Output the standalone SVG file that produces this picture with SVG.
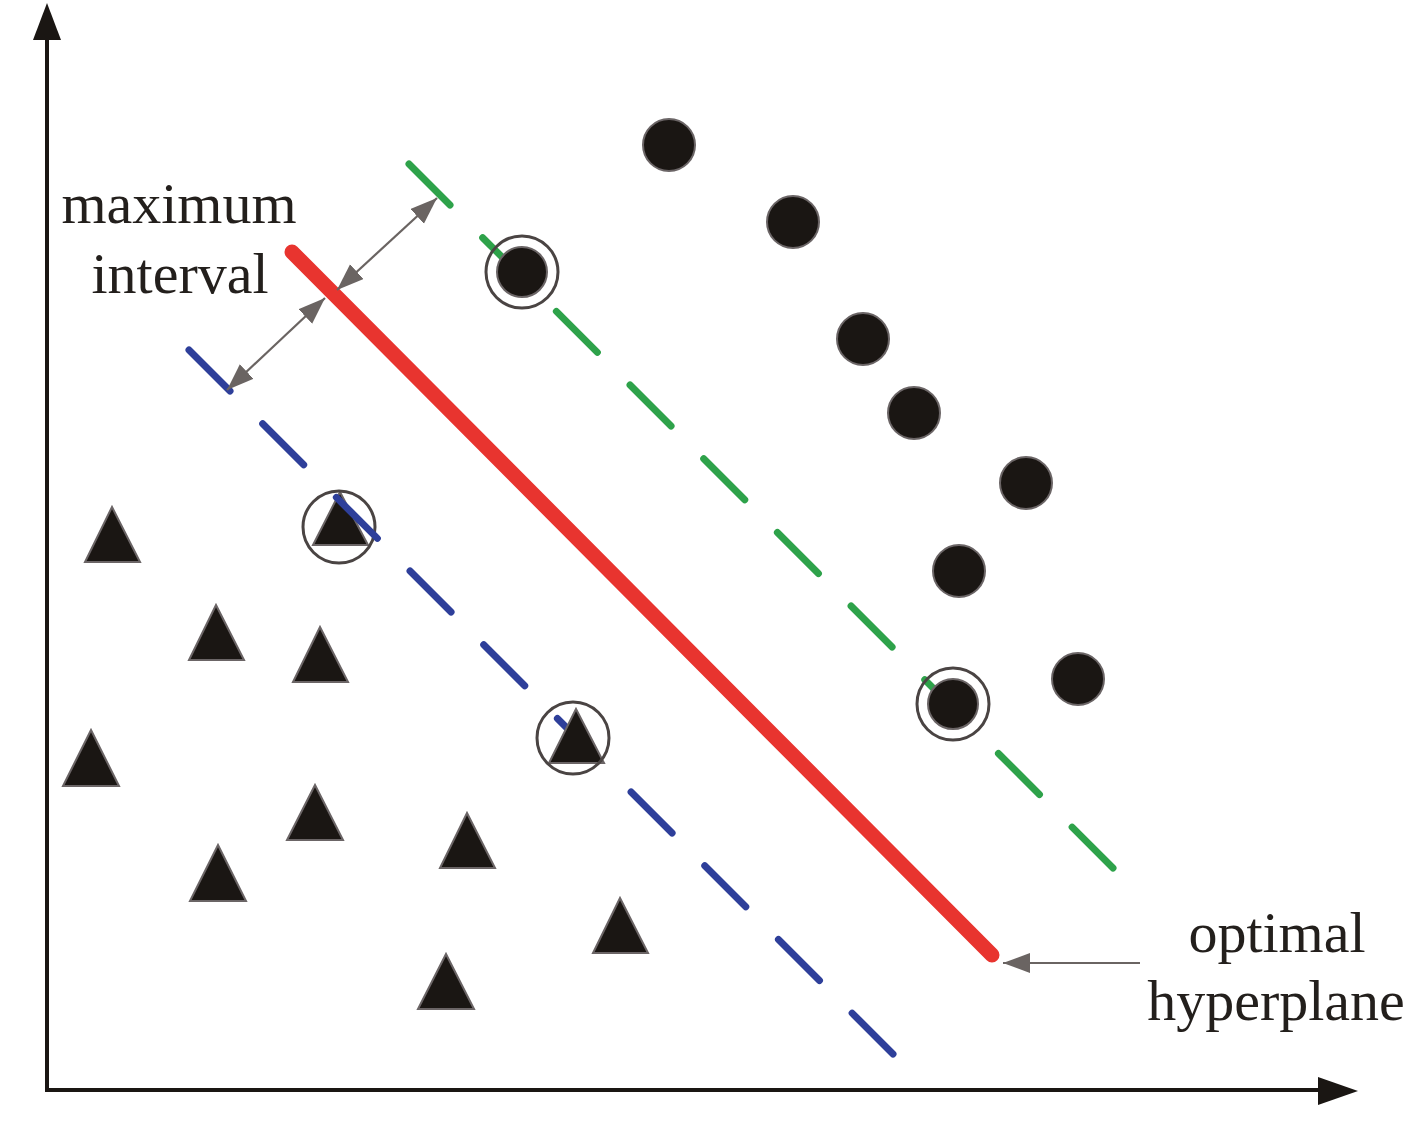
<svg xmlns="http://www.w3.org/2000/svg" width="1417" height="1136" viewBox="0 0 1417 1136">
  <style>
    .lbl { font-family: "Liberation Serif", "Times New Roman", serif; font-size: 58px; fill: #231f1c; text-anchor: middle; }
    .axis { stroke: #1a1613; stroke-width: 4; fill: none; }
    .axhead { fill: #1a1613; }
    .dot { fill: #1a1613; stroke: #6b6566; stroke-width: 2; }
    .tri { fill: #1a1613; stroke: #6b6566; stroke-width: 2; stroke-linejoin: miter; }
    .ring { fill: none; stroke: #4a4443; stroke-width: 3; }
    .dash { fill: none; stroke-width: 7; stroke-linecap: round; stroke-dasharray: 58 46.2; }
    .ptr { stroke: #6a6462; stroke-width: 2.2; fill: none; }
  </style>
  <defs>
    <marker id="ah" markerUnits="userSpaceOnUse" markerWidth="28" markerHeight="22" refX="27" refY="10" orient="auto-start-reverse">
      <path d="M0,0 L27,10 L0,20 z" fill="#6a6462"/>
    </marker>
  </defs>
  <rect width="1417" height="1136" fill="#ffffff"/>

  <g id="axes">
    <line class="axis" x1="47" y1="1092" x2="47" y2="36"/>
    <polygon class="axhead" points="47,3 61,40 33,40"/>
    <line class="axis" x1="45" y1="1090" x2="1322" y2="1090"/>
    <polygon class="axhead" points="1358,1091 1318,1077 1318,1105"/>
  </g>

  <g id="sv-triangle-1">
    <polygon class="tri" points="340,492 368,545 313,545"/>
    <circle class="ring" cx="339" cy="527" r="36"/>
  </g>

  <g id="connectors">
    <line id="hyperplane" x1="292" y1="252" x2="992" y2="955" stroke="#e8342f" stroke-width="15" stroke-linecap="round"/>
    <line id="margin-plus" class="dash" stroke="#2ea24a" x1="409" y1="164" x2="1113" y2="868"/>
    <line id="margin-minus" class="dash" stroke="#2e3f9a" x1="189" y1="350" x2="893" y2="1054"/>
    <line id="interval-1" class="ptr" x1="437" y1="198" x2="337" y2="290" marker-start="url(#ah)" marker-end="url(#ah)"/>
    <line id="interval-2" class="ptr" x1="325" y1="298" x2="227" y2="390" marker-start="url(#ah)" marker-end="url(#ah)"/>
    <line id="hyperplane-pointer" class="ptr" x1="1140" y1="963" x2="1003" y2="963" marker-end="url(#ah)"/>
  </g>

  <g id="triangles">
    <polygon class="tri" points="112,507 140,562 85,562"/>
    <polygon class="tri" points="216,605 244,660 189,660"/>
    <polygon class="tri" points="320,627 348,682 293,682"/>
    <polygon class="tri" points="91,730 119,786 63,786"/>
    <polygon class="tri" points="315,785 343,840 287,840"/>
    <polygon class="tri" points="218,845 246,901 190,901"/>
    <polygon class="tri" points="467,813 495,868 440,868"/>
    <polygon class="tri" points="446,954 474,1009 418,1009"/>
    <polygon class="tri" points="620,898 648,953 593,953"/>
  </g>
  <g id="sv-triangle-2">
    <polygon class="tri" points="576,709 604,763 549,763"/>
    <circle class="ring" cx="573" cy="738" r="36"/>
  </g>

  <g id="dots">
    <circle class="dot" cx="669" cy="145" r="26"/>
    <circle class="dot" cx="793" cy="222" r="26"/>
    <circle class="dot" cx="863" cy="339" r="26"/>
    <circle class="dot" cx="914" cy="413" r="26"/>
    <circle class="dot" cx="1026" cy="483" r="26"/>
    <circle class="dot" cx="959" cy="571" r="26"/>
    <circle class="dot" cx="1078" cy="679" r="26"/>
  </g>
  <g id="sv-dot-1">
    <circle class="dot" cx="522" cy="272" r="25"/>
    <circle class="ring" cx="522" cy="272" r="36"/>
  </g>
  <g id="sv-dot-2">
    <circle class="dot" cx="953" cy="704" r="25"/>
    <circle class="ring" cx="953" cy="704" r="36"/>
  </g>

  <g id="label-interval">
    <text class="lbl" x="179" y="223">maximum</text>
    <text class="lbl" x="180" y="293">interval</text>
  </g>
  <g id="label-hyperplane">
    <text class="lbl" x="1277" y="952">optimal</text>
    <text class="lbl" x="1276" y="1020">hyperplane</text>
  </g>
</svg>
